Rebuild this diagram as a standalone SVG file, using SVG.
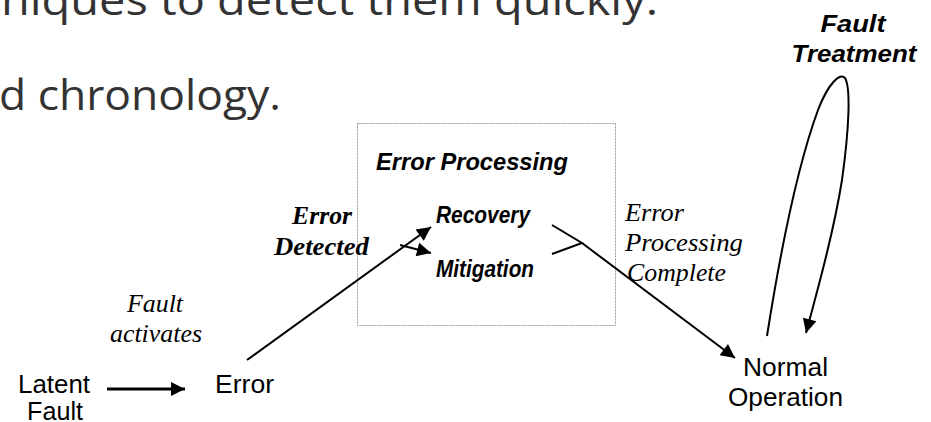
<svg xmlns="http://www.w3.org/2000/svg" width="931" height="422" viewBox="0 0 931 422">
<style>
.bg{fill:#fff}
.head{font-family:"Open Sans","DejaVu Sans",sans-serif;font-size:42px;fill:#333}
.sans{font-family:"Liberation Sans",Arial,sans-serif;font-size:25px;fill:#000}
.sbi{font-family:"Liberation Sans",Arial,sans-serif;font-size:23px;font-weight:bold;font-style:italic;fill:#000}
.seri{font-family:"Liberation Serif","Times New Roman",serif;font-size:25px;font-style:italic;fill:#000}
.serbi{font-family:"Liberation Serif","Times New Roman",serif;font-size:25px;font-weight:bold;font-style:italic;fill:#000}
.ln{fill:none;stroke:#000;stroke-width:2}
.box{fill:none;stroke:#9a9a9a;stroke-width:1;stroke-dasharray:2 1}
</style>
<defs>
<marker id="ah" viewBox="0 0 10 10" refX="10" refY="5" markerUnits="userSpaceOnUse" markerWidth="17" markerHeight="14" orient="auto">
<path d="M0,0 L10,5 L0,10 z" fill="#000"/>
</marker>
</defs>
<rect class="bg" x="0" y="0" width="931" height="422"/>
<g id="heading">
<text class="head" x="1" y="15" textLength="657" lengthAdjust="spacingAndGlyphs">niques to detect them quickly.</text>
<text class="head" x="-1" y="110" textLength="282" lengthAdjust="spacingAndGlyphs">d chronology.</text>
</g>
<g id="error-processing">
<rect class="box" x="357.5" y="123.5" width="258" height="202"/>
<text class="sbi" x="376" y="170" textLength="192" lengthAdjust="spacingAndGlyphs">Error Processing</text>
</g>
<g id="recovery">
<text class="sbi" x="436" y="223" textLength="94" lengthAdjust="spacingAndGlyphs">Recovery</text>
</g>
<g id="mitigation">
<text class="sbi" x="436" y="277" textLength="98" lengthAdjust="spacingAndGlyphs">Mitigation</text>
</g>
<g id="latent-fault">
<text class="sans" x="54" y="393" text-anchor="middle" textLength="72" lengthAdjust="spacingAndGlyphs">Latent</text>
<text class="sans" x="55" y="420" text-anchor="middle" textLength="56" lengthAdjust="spacingAndGlyphs">Fault</text>
</g>
<g id="error">
<text class="sans" x="215" y="393" textLength="59" lengthAdjust="spacingAndGlyphs">Error</text>
</g>
<g id="normal-operation">
<text class="sans" x="785.5" y="376" text-anchor="middle" textLength="85" lengthAdjust="spacingAndGlyphs">Normal</text>
<text class="sans" x="785.5" y="406" text-anchor="middle" textLength="115" lengthAdjust="spacingAndGlyphs">Operation</text>
</g>
<g id="fault-treatment">
<text class="sbi" x="853" y="32" text-anchor="middle" textLength="65" lengthAdjust="spacingAndGlyphs">Fault</text>
<text class="sbi" x="854" y="62" text-anchor="middle" textLength="125" lengthAdjust="spacingAndGlyphs">Treatment</text>
</g>
<g id="connectors">
<line x1="107" y1="389" x2="185" y2="389" stroke="#000" stroke-width="3" marker-end="url(#ah)"/>
<line class="ln" x1="247" y1="360" x2="431" y2="227" marker-end="url(#ah)"/>
<line class="ln" x1="400" y1="245" x2="431" y2="253" marker-end="url(#ah)"/>
<polyline class="ln" points="552,225 582,243 552,254"/>
<line class="ln" x1="582" y1="243" x2="735" y2="358" marker-end="url(#ah)"/>
<path class="ln" d="M767,336 C779,260 796,170 818,110 C828,84 840,72 845,78 C851,88 849,130 842,180 C834,230 819,285 806,333" marker-end="url(#ah)"/>
<g id="label-fault-activates">
<text class="seri" x="155" y="312" text-anchor="middle" textLength="56" lengthAdjust="spacingAndGlyphs">Fault</text>
<text class="seri" x="156" y="342" text-anchor="middle" textLength="92" lengthAdjust="spacingAndGlyphs">activates</text>
</g>
<g id="label-error-detected">
<text class="serbi" x="322" y="224" text-anchor="middle" textLength="60" lengthAdjust="spacingAndGlyphs">Error</text>
<text class="serbi" x="321.5" y="255" text-anchor="middle" textLength="95" lengthAdjust="spacingAndGlyphs">Detected</text>
</g>
<g id="label-ep-complete">
<text class="seri" x="625" y="221" textLength="59" lengthAdjust="spacingAndGlyphs">Error</text>
<text class="seri" x="625" y="251" textLength="118" lengthAdjust="spacingAndGlyphs">Processing</text>
<text class="seri" x="627" y="281" textLength="99" lengthAdjust="spacingAndGlyphs">Complete</text>
</g>
</g>
</svg>
